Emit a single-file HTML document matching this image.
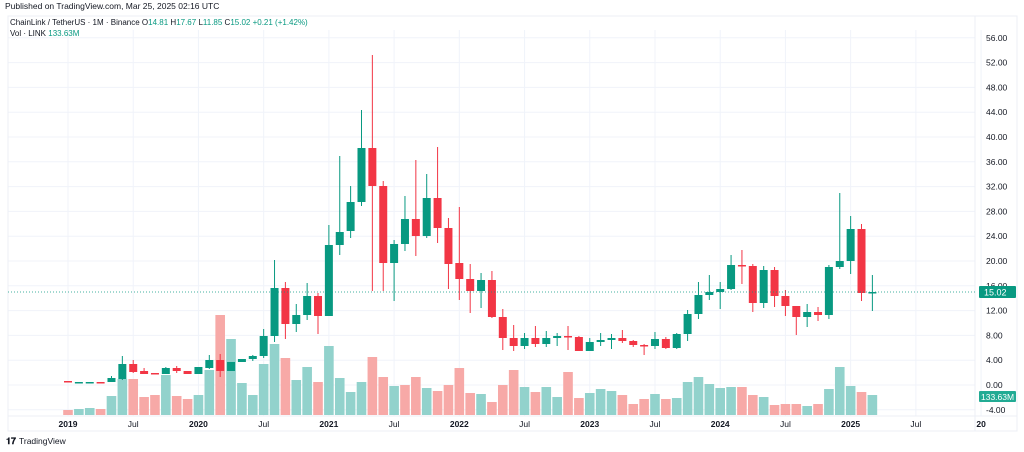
<!DOCTYPE html>
<html><head><meta charset="utf-8">
<style>
html,body{margin:0;padding:0;background:#fff;}
body{width:1024px;height:452px;overflow:hidden;font-family:"Liberation Sans",sans-serif;}
svg{display:block}
</style></head>
<body>
<svg id="c" width="1024" height="452" xmlns="http://www.w3.org/2000/svg" font-family="Liberation Sans, sans-serif"></svg>
<script>
const s=document.getElementById('c');let h='';
// grid
const py=p=>385-6.2*p;
for(let p=56;p>=-4;p-=4){const y=py(p);h+=`<line x1="8" x2="975" y1="${y}" y2="${y}" stroke="#f0f3fa" stroke-width="1"/>`;}
const cx=i=>68+10.87*i;
const tl=[[0,'2019',1],[6,'Jul',0],[12,'2020',1],[18,'Jul',0],[24,'2021',1],[30,'Jul',0],[36,'2022',1],[42,'Jul',0],[48,'2023',1],[54,'Jul',0],[60,'2024',1],[66,'Jul',0],[72,'2025',1],[78,'Jul',0],[84,'20',1]];
for(const [i,t,b] of tl){const x=cx(i);h+=`<line x1="${x}" x2="${x}" y1="30" y2="416" stroke="#f0f3fa"/>`;}
// frame
h+=`<rect x="8" y="16" width="1009" height="415" fill="none" stroke="#eceff5"/>`;
h+=`<line x1="975" x2="975" y1="16" y2="431" stroke="#eceff5"/>`;
h+=`<line x1="8" x2="1017" y1="416" y2="416" stroke="#eceff5"/>`;
// volume
const vol=[['r',410],['g',409],['g',408],['r',409],['g',396],['g',379],['r',379],['r',397],['r',395],['g',375],['r',396],['r',399],
['g',395],['g',370],['r',315],['g',339],['g',383],['g',395],['g',364],['g',344],['r',358],['g',380],['g',367],['r',382],
['g',346],['g',378],['g',392],['g',382],['r',357],['r',377],['g',386],
['r',385],['r',377],['g',388],['r',391],['r',385],['r',368],['r',393],['g',394],['r',402],['r',385],['r',370],['g',387],['r',392],['g',387],['g',397],['r',372],['r',398],['g',393],['g',389],['g',391],['r',395],['r',404],['r',399],['g',394],['r',399],['g',398],['g',382],['g',377],['g',384],['g',388],['g',387],['r',387],['r',395],['g',397],['r',405],['r',404],['r',404],['g',406],['r',404],['g',389],['g',367],['g',386],['r',392],['g',395]];
vol.forEach((v,i)=>{const x=cx(i);h+=`<rect x="${x-4.8}" y="${v[1]}" width="9.6" height="${415-v[1]}" fill="${v[0]=='g'?'#92d2cc':'#f7a9a7'}"/>`;});
// candles: [o,c,h,l] in px
const C=[[381,382,381,382],[382,382,382,382],[382,382,382,382],[382,382,382,382],[382,378,376,382],[379,364,356,380],[364,372,360,373],[371,374,368,374],[373,374,373,374],[374,368,367,374],[368,371,366,373],[371,374,371,374],
[374,367,367,374],[368,360,355,369],[360,371,354,377],[371,362,362,371],[362,359,359,362],[359,356,355,361],[356,336,329,358],[336,288,260,342],[288,324,282,339],[324,315,304,332],[315,296,283,320],[296,316,293,334],
[316,245,225,316],[245,232,156,255],[231,202,186,238],[202,148,110,206],[148,186,55,291],[186,263,181,291],[263,244,240,301],[244,219,196,251],[219,236,160,256],[236,198,174,238],[198,228,147,243],[228,264,218,289],
[263,279,207,300],[279,291,264,313],[291,280,273,308],[280,317,271,318],[317,338,309,350],[338,346,325,351],[346,338,333,349],[338,344,326,347],[344,338,331,347],[338,336,333,346],[336,337,326,350],[337,351,336,351],
[351,342,338,351],[342,340,333,346],[340,338,334,349],[338,341,330,343],[341,345,340,347],[345,346,344,355],[346,339,332,349],[339,348,337,349],[348,334,333,349],[334,314,310,341],[314,295,282,319],[295,292,275,300],
[292,289,282,309],[289,265,255,290],[265,266,250,284],[266,303,264,312],[303,270,266,308],[270,296,267,307],[296,306,290,316],[306,317,306,335],[317,312,304,327],[312,315,307,321],[315,267,265,319],[267,261,193,269],
[261,229,216,274],[229,293,224,301],[293,292,275,311]];
C.forEach((c,i)=>{const x=cx(i);const up=c[1]<c[0]||(c[1]==c[0]&&[1,2,17,47].includes(i)===false&&vol[i][0]=='g');const col=(c[1]<c[0]||(c[1]==c[0]&&vol[i][0]=='g'))?'#089981':'#f23645';
h+=`<line x1="${x}" x2="${x}" y1="${c[2]}" y2="${c[3]}" stroke="${col}" stroke-width="1"/>`;
const t=Math.min(c[0],c[1]),b=Math.max(c[0],c[1]);h+=`<rect x="${x-4}" y="${t}" width="8" height="${Math.max(b-t,1.5)}" fill="${col}"/>`;});
// last price line
h+=`<line x1="8" x2="975" y1="292" y2="292" stroke="#089981" stroke-dasharray="1,2" stroke-width="0.8"/>`;
// price labels
for(let p=56;p>=-4;p-=4){const y=py(p);h+=`<text x="986" y="${y+3}" font-size="8.5" fill="#131722">${p.toFixed(2)}</text>`;}
h+=`<rect x="979" y="286" width="37" height="12" fill="#089981" rx="1"/><text x="984" y="295.5" font-size="9" fill="#fff">15.02</text>`;
h+=`<rect x="979" y="391" width="37" height="11" fill="#22ab94" rx="1"/><text x="981" y="400" font-size="8.5" fill="#fff">133.63M</text>`;
// time labels
for(const [i,t,b] of tl){const x=cx(i);h+=`<text x="${x}" y="427" font-size="8.5" text-anchor="middle" fill="#131722" ${b?'font-weight="bold"':''}>${t}</text>`;}
// header
h+=`<text x="5" y="9" font-size="8.5" fill="#131722">Published on TradingView.com, Mar 25, 2025 02:16 UTC</text>`;
h+=`<text x="10" y="25" font-size="8" fill="#131722">ChainLink / TetherUS · 1M · Binance <tspan fill="#131722">O</tspan><tspan fill="#089981">14.81 </tspan><tspan fill="#131722">H</tspan><tspan fill="#089981">17.67 </tspan><tspan fill="#131722">L</tspan><tspan fill="#089981">11.85 </tspan><tspan fill="#131722">C</tspan><tspan fill="#089981">15.02 +0.21 (+1.42%)</tspan></text>`;
h+=`<text x="10" y="36" font-size="8" fill="#131722">Vol · LINK <tspan fill="#089981">133.63M</tspan></text>`;
// logo
h+=`<text x="6" y="444" font-size="9" font-weight="bold" fill="#131722">𝟏𝟕</text><text x="19" y="444" font-size="8.5" fill="#131722">TradingView</text>`;
s.innerHTML=h;
</script>
</body></html>
